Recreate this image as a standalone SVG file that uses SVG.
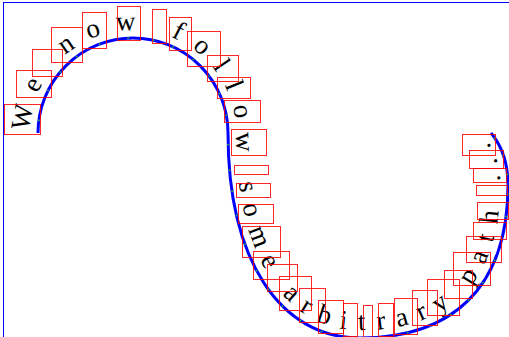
<svg xmlns="http://www.w3.org/2000/svg" xmlns:xlink="http://www.w3.org/1999/xlink" width="509" height="337" viewBox="0 0 509 337">
<style>
.frame{fill:none;stroke:#0000ff;stroke-width:1}
.curve{fill:none;stroke:#0000ff;stroke-width:3}
.mids{fill:none;stroke:#22cc22;stroke-width:1.5}
.label{font-family:"Liberation Serif","Times New Roman",serif;font-size:27px;fill:#000;letter-spacing:12.6px}
.box{fill:none;stroke:#ff0000;stroke-width:1;stroke-opacity:0.85}
</style>
<defs>
<path id="curvePath" d="M 38,133 A 95,95 0 0 1 228,133 C 228,260 280,338 360,338 C 450,338 508,290 508,185 C 508,163 501,145 491,133"/>
</defs>
<rect class="frame" x="3.5" y="2.5" width="600" height="400"/>
<g id="connectors">
<use xlink:href="#curvePath" href="#curvePath" class="curve"/>
<use xlink:href="#curvePath" href="#curvePath" class="mids" stroke-dasharray="0 11.99 1.5 29.84 1.5 20.48 1.5 21.23 1.5 24.6 1.5 27.6 1.5 24.23 1.5 18.98 1.5 22.35 1.5 21.6 1.5 18.6 1.5 21.6 1.5 27.6 1.5 24.23 1.5 19.73 1.5 23.1 1.5 28.35 1.5 27.6 1.5 20.48 1.5 20.48 1.5 21.6 1.5 22.35 1.5 21.6 1.5 18.6 1.5 19.35 1.5 21.6 1.5 21.6 1.5 22.35 1.5 21.23 1.5 21.23 1.5 23.85 1.5 20.85 1.5 21.6 1.5 21.23 1.5 17.86 1.5 17.86 1.5 17.86 1.5 1000"/>
</g>
<g id="pathText">
<text class="label"><textPath xlink:href="#curvePath" href="#curvePath"><tspan dy="-8">We now follow some arbitrary path ...</tspan></textPath></text>
</g>
<g id="glyphBoxes">
<rect class="box" x="4.5" y="104.5" width="36" height="30"/>
<rect class="box" x="16.5" y="70.5" width="35" height="27"/>
<rect class="box" x="32.5" y="49.5" width="30" height="27"/>
<rect class="box" x="51.5" y="27.5" width="31" height="35"/>
<rect class="box" x="82.5" y="12.5" width="24" height="36"/>
<rect class="box" x="117.5" y="6.5" width="23" height="34"/>
<rect class="box" x="152.5" y="9.5" width="14" height="34"/>
<rect class="box" x="169.5" y="17.5" width="22" height="33"/>
<rect class="box" x="187.5" y="31.5" width="33" height="35"/>
<rect class="box" x="207.5" y="55.5" width="31" height="26"/>
<rect class="box" x="217.5" y="77.5" width="33" height="21"/>
<rect class="box" x="224.5" y="100.5" width="36" height="22"/>
<rect class="box" x="231.5" y="129.5" width="35" height="26"/>
<rect class="box" x="234.5" y="165.5" width="34" height="9"/>
<rect class="box" x="236.5" y="183.5" width="34" height="14"/>
<rect class="box" x="238.5" y="204.5" width="35" height="19"/>
<rect class="box" x="242.5" y="226.5" width="38" height="31"/>
<rect class="box" x="253.5" y="251.5" width="36" height="28"/>
<rect class="box" x="267.5" y="264.5" width="30" height="27"/>
<rect class="box" x="279.5" y="276.5" width="32" height="34"/>
<rect class="box" x="299.5" y="288.5" width="26" height="34"/>
<rect class="box" x="318.5" y="300.5" width="25" height="33"/>
<rect class="box" x="343.5" y="303.5" width="14" height="33"/>
<rect class="box" x="363.5" y="305.5" width="9" height="32"/>
<rect class="box" x="378.5" y="303.5" width="15" height="33"/>
<rect class="box" x="394.5" y="298.5" width="23" height="36"/>
<rect class="box" x="412.5" y="290.5" width="25" height="35"/>
<rect class="box" x="427.5" y="279.5" width="32" height="36"/>
<rect class="box" x="444.5" y="270.5" width="28" height="28"/>
<rect class="box" x="453.5" y="252.5" width="37" height="33"/>
<rect class="box" x="466.5" y="236.5" width="35" height="26"/>
<rect class="box" x="473.5" y="222.5" width="33" height="17"/>
<rect class="box" x="477.5" y="202.5" width="31" height="17"/>
<rect class="box" x="476.5" y="185.5" width="31" height="10"/>
<rect class="box" x="473.5" y="168.5" width="33" height="14"/>
<rect class="box" x="469.5" y="150.5" width="34" height="18"/>
<rect class="box" x="462.5" y="134.5" width="33" height="21"/>
</g>
</svg>
